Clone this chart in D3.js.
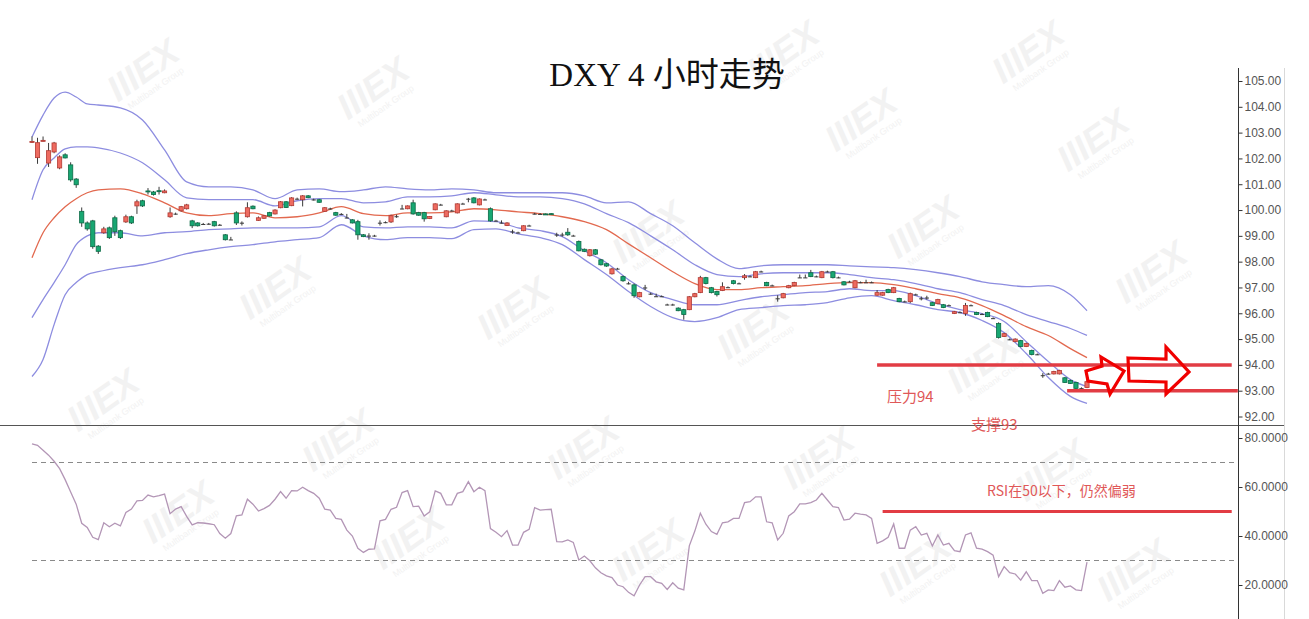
<!DOCTYPE html>
<html><head><meta charset="utf-8">
<script src="https://cdn.jsdelivr.net/npm/d3@7"></script>
<style>body{margin:0;background:#fff;} svg{display:block;}</style>
</head><body><svg id="c" width="1309" height="619"></svg>
<script>
// ---------- DATA ----------
const title = "DXY 4 小时走势";
// candles: [open, high, low, close] (4-hour bars)
const candles = [
[102.64,102.85,102.60,102.66],[102.03,102.80,101.79,102.61],[102.68,102.85,102.66,102.70],[101.82,102.60,101.67,102.30],
[102.25,102.64,102.20,102.60],[101.63,102.12,101.58,102.06],[102.14,102.20,102.00,102.02],[101.75,101.85,101.10,101.17],
[101.20,101.24,100.86,100.98],[99.95,100.10,99.35,99.50],[99.50,99.56,99.20,99.27],[99.58,99.62,98.50,98.58],
[98.60,98.64,98.30,98.40],[99.12,99.35,99.08,99.27],[99.31,99.36,98.88,98.93],[99.70,99.78,99.00,99.16],
[99.20,99.24,98.88,98.93],[99.54,99.82,99.50,99.74],[99.74,99.78,99.46,99.50],[100.16,100.40,99.85,100.32],
[100.36,100.40,100.12,100.16],[100.74,100.85,100.60,100.72],[100.70,100.74,100.56,100.60],[100.75,100.90,100.60,100.73],
[100.67,100.80,100.65,100.74],[99.74,100.10,99.70,99.89],[99.86,99.90,99.82,99.85],[99.97,100.16,99.94,100.13],
[100.05,100.24,100.02,100.20],[99.58,99.62,99.30,99.39],[99.50,99.53,99.36,99.39],[99.46,99.50,99.42,99.45],
[99.47,99.50,99.43,99.46],[99.55,99.58,99.36,99.39],[99.43,99.46,99.40,99.42],[99.04,99.07,98.82,98.85],
[98.86,98.96,98.84,98.85],[99.89,99.95,99.42,99.50],[99.51,99.56,99.40,99.50],[99.74,100.30,99.71,100.09],
[100.15,100.18,100.03,100.05],[99.60,99.75,99.58,99.70],[99.68,99.80,99.66,99.78],[99.90,99.93,99.75,99.77],
[99.85,100.03,99.83,100.00],[100.09,100.35,100.07,100.32],[100.32,100.35,100.08,100.10],[100.17,100.50,100.15,100.47],
[100.44,100.48,100.40,100.43],[100.40,100.58,100.14,100.55],[100.55,100.58,100.46,100.48],[100.41,100.44,100.37,100.40],
[100.40,100.43,100.28,100.30],[99.95,100.11,99.93,100.09],[100.06,100.09,100.02,100.05],[99.90,99.93,99.78,99.80],
[99.85,99.88,99.81,99.84],[99.71,99.85,99.68,99.70],[99.62,99.65,99.48,99.50],[99.55,99.62,98.85,99.04],
[99.04,99.07,98.95,98.97],[99.01,99.10,98.85,99.00],[99.01,99.04,98.97,99.00],[99.51,99.60,99.40,99.50],
[99.53,99.56,99.49,99.52],[99.54,99.82,99.50,99.78],[99.76,99.82,99.70,99.75],[100.06,100.20,100.03,100.05],
[100.05,100.18,100.03,100.16],[100.28,100.40,99.82,99.85],[99.90,99.93,99.78,99.80],[99.90,99.93,99.55,99.66],
[99.67,99.77,99.65,99.75],[100.01,100.26,99.99,100.24],[100.21,100.24,100.18,100.20],[99.74,99.99,99.72,99.97],
[99.98,100.01,99.95,99.97],[99.89,100.26,99.87,100.24],[100.25,100.28,100.22,100.24],[100.44,100.47,100.30,100.43],
[100.47,100.50,100.26,100.28],[100.20,100.45,100.18,100.43],[100.41,100.44,100.38,100.40],[100.05,100.10,99.55,99.58],
[99.59,99.62,99.56,99.58],[99.51,99.60,99.48,99.50],[99.40,99.53,99.38,99.50],[99.17,99.24,99.08,99.16],
[99.13,99.16,99.10,99.12],[99.20,99.41,99.18,99.39],[99.40,99.43,99.37,99.39],[99.86,99.89,99.83,99.85],
[99.85,99.88,99.82,99.84],[99.85,99.87,99.81,99.83],[99.86,99.88,99.82,99.84],[99.05,99.12,98.96,99.04],
[99.05,99.12,98.97,99.04],[99.14,99.30,99.00,99.04],[99.01,99.04,98.98,99.00],[98.78,98.82,98.40,98.42],
[98.48,98.51,98.37,98.40],[98.23,98.49,98.20,98.46],[98.46,98.49,98.26,98.29],[98.07,98.10,97.85,97.88],
[97.92,97.95,97.80,97.83],[97.53,97.76,97.50,97.72],[97.73,97.76,97.70,97.72],[97.42,97.46,97.22,97.26],
[97.16,97.22,97.12,97.15],[97.10,97.15,96.60,96.68],[96.64,96.83,96.62,96.80],[97.00,97.10,96.90,96.99],
[96.76,96.80,96.72,96.75],[96.66,96.76,96.64,96.65],[96.66,96.69,96.63,96.65],[96.34,96.37,96.31,96.33],
[96.34,96.37,96.30,96.33],[96.20,96.23,96.08,96.10],[96.14,96.17,95.75,95.95],[96.14,96.67,96.12,96.64],
[96.64,96.79,96.62,96.76],[96.80,97.45,96.78,97.38],[97.38,97.41,97.12,97.15],[96.99,97.02,96.77,96.80],
[96.84,96.87,96.65,96.72],[96.88,97.20,96.86,97.03],[97.01,97.04,96.98,97.00],[97.26,97.29,97.12,97.15],
[97.16,97.19,97.13,97.15],[97.38,97.52,97.30,97.45],[97.43,97.46,97.40,97.42],[97.38,97.64,97.36,97.61],
[97.62,97.65,97.59,97.61],[97.19,97.22,97.05,97.07],[97.08,97.11,97.05,97.07],[96.58,96.70,96.45,96.57],
[96.60,96.79,96.58,96.76],[96.99,97.10,96.97,97.07],[97.07,97.22,97.05,97.19],[97.39,97.50,97.37,97.38],
[97.39,97.50,97.37,97.38],[97.57,97.68,97.40,97.42],[97.43,97.46,97.40,97.42],[97.38,97.64,97.36,97.61],
[97.62,97.65,97.59,97.61],[97.61,97.64,97.35,97.38],[97.39,97.42,97.36,97.38],[97.22,97.25,97.08,97.10],
[97.23,97.26,97.20,97.22],[96.99,97.29,96.97,97.26],[97.20,97.23,97.17,97.19],[97.20,97.30,97.18,97.19],
[97.20,97.23,97.17,97.19],[96.70,96.90,96.68,96.80],[96.70,96.83,96.68,96.80],[96.92,96.95,96.78,96.80],
[96.80,97.02,96.78,96.99],[96.57,96.60,96.43,96.45],[96.46,96.49,96.43,96.45],[96.45,96.80,96.40,96.76],
[96.73,96.76,96.70,96.72],[96.58,96.65,96.50,96.57],[96.61,96.68,96.53,96.60],[96.41,96.44,96.28,96.30],
[96.37,96.56,96.35,96.53],[96.33,96.36,96.20,96.22],[96.31,96.34,96.28,96.30],[95.99,96.09,95.97,96.06],
[96.04,96.07,96.01,96.03],[95.99,96.40,95.90,96.30],[96.31,96.34,96.28,96.30],[96.03,96.06,95.93,95.95],
[95.97,96.00,95.94,95.96],[96.03,96.06,95.85,95.87],[95.81,95.84,95.78,95.80],[95.60,95.65,95.02,95.06],
[95.10,95.24,95.08,95.21],[94.99,95.02,94.96,94.98],[94.90,95.03,94.88,95.00],[94.94,94.97,94.68,94.71],
[94.71,94.86,94.69,94.83],[94.56,94.59,94.37,94.40],[94.41,94.44,94.38,94.40],[93.60,93.68,93.50,93.59],
[93.66,93.69,93.63,93.65],[93.65,93.77,93.63,93.74],[93.65,93.81,93.63,93.78],[93.50,93.53,93.30,93.32],
[93.40,93.43,93.26,93.28],[93.32,93.35,93.06,93.09],[93.10,93.13,93.07,93.09],[93.12,93.50,93.10,93.35]
];
// Bollinger-type bands, sampled at these bar indices
const bandIdx = [0,2,4,6,8,10,12,16,20,24,28,32,36,40,44,48,52,56,60,64,68,72,76,80,84,88,92,96,100,104,108,112,116,120,124,128,132,136,140,144,148,152,156,160,164,168,172,176,180,184,188,191];
const upperOuter = [102.83,103.68,104.34,104.57,104.38,104.11,104.07,103.96,103.49,102.33,101.09,100.90,100.90,100.78,100.44,100.78,100.82,100.71,100.78,100.90,100.82,100.78,100.82,100.78,100.67,100.67,100.67,100.67,100.55,100.28,100.32,99.86,99.39,98.73,98.11,97.73,97.84,97.88,97.88,97.88,97.84,97.80,97.77,97.69,97.57,97.42,97.22,97.11,97.03,97.07,96.72,96.10];
const upperInner = [100.40,101.56,102.02,102.37,102.45,102.45,102.41,102.21,101.83,101.17,100.47,100.40,100.40,100.40,100.16,100.36,100.44,100.44,100.28,100.32,100.51,100.51,100.55,100.67,100.59,100.51,100.51,100.44,100.24,99.86,99.51,99.00,98.46,97.88,97.50,97.42,97.53,97.57,97.57,97.57,97.50,97.38,97.30,97.15,96.95,96.80,96.53,96.30,95.95,95.68,95.41,95.14];
const midBand = [98.15,99.12,99.70,100.13,100.44,100.67,100.78,100.82,100.63,100.28,99.89,99.78,99.86,99.89,99.70,99.74,99.89,100.13,99.86,99.78,99.89,99.89,99.93,100.05,100.01,99.93,99.86,99.74,99.55,99.24,98.69,98.15,97.61,97.15,96.92,96.92,96.99,97.03,97.07,97.15,97.19,97.19,97.11,96.95,96.76,96.60,96.30,95.91,95.48,95.14,94.63,94.28];
const lowerInner = [95.83,96.53,97.19,97.88,98.66,99.00,99.12,99.12,99.00,99.12,99.16,99.24,99.27,99.31,99.31,99.31,99.35,99.78,99.35,99.31,99.35,99.35,99.31,99.58,99.55,99.31,99.20,98.97,98.42,97.96,97.30,96.80,96.53,96.33,96.33,96.49,96.64,96.72,96.80,96.84,96.95,96.88,96.88,96.68,96.37,96.14,95.99,95.68,94.90,94.13,93.43,93.16];
const lowerOuter = [93.55,94.21,95.56,96.72,97.19,97.50,97.61,97.77,97.88,98.08,98.31,98.46,98.58,98.66,98.77,98.85,98.93,99.43,99.00,98.85,98.93,98.93,98.89,99.24,99.27,99.08,98.93,98.66,98.08,97.50,96.84,96.26,95.83,95.68,95.83,96.14,96.22,96.30,96.33,96.41,96.60,96.68,96.49,96.33,96.14,96.03,95.72,95.25,94.44,93.51,92.78,92.51];
// RSI, one value per bar
const rsi = [77.6,77.0,75.0,73.0,70.5,67.5,63.0,58.0,53.0,45.2,
43.5,39.5,38.5,45.4,43.8,45.2,44.1,49.6,51.0,54.3,
54.5,56.7,56.0,56.5,57.1,49.1,51.0,52.0,48.0,44.5,
45.4,45.3,45.0,44.6,41.0,39.1,41.0,48.2,48.6,55.0,
53.0,50.2,51.2,52.5,55.0,58.1,55.4,58.5,58.4,59.9,
58.5,57.4,55.4,51.0,50.6,47.2,46.8,42.4,40.0,35.0,
33.3,34.6,34.7,46.2,46.8,50.9,51.7,57.7,58.5,52.0,
52.2,48.2,49.9,58.4,57.4,52.7,52.7,57.4,58.1,62.2,
58.1,59.9,58.5,43.0,41.5,39.7,42.2,36.3,36.3,41.5,
42.7,51.6,50.6,50.8,50.9,37.7,37.6,38.4,37.4,30.2,
31.8,29.9,27.0,25.0,23.7,23.0,20.0,19.3,17.0,15.6,
20.0,23.4,23.4,21.3,20.7,18.2,20.9,18.7,18.0,36.0,
42.0,49.3,44.8,41.8,40.7,45.4,45.8,47.2,47.2,53.6,
54.0,56.0,56.0,45.8,45.4,38.4,41.1,48.2,49.9,53.1,
53.1,53.6,54.7,57.4,54.7,52.0,51.6,46.5,46.9,49.3,
48.9,48.6,47.2,37.0,38.0,39.5,44.9,35.0,35.0,42.4,
43.8,40.4,41.1,35.9,40.4,36.3,37.0,34.0,33.6,40.4,
41.3,35.0,34.6,33.6,32.2,23.4,27.5,25.0,24.5,22.0,
25.4,21.8,21.8,16.6,18.0,17.7,21.8,19.1,19.6,18.0,
17.7,29.3];
const priceTicks = [92,93,94,95,96,97,98,99,100,101,102,103,104,105];
const rsiTicks = [20,40,60,80];
const rsiGuides = [70,30];
// annotation levels: [value, fromBar, toBar]
const resistance = [94, 153, 217.2];
const support = [93, 187.4, 218.3];
const rsiLevel = [50, 154, 217.2];
const noteResist = "压力94";
const noteSupport = "支撑93";
const noteRsi = "RSI在50以下，仍然偏弱";

// ---------- CHART ----------
const svg = d3.select("#c");
svg.append("rect").attr("width",1309).attr("height",619).attr("fill","#fff");

const x = d3.scaleLinear().domain([0, candles.length-1]).range([32,1087]);
const y = d3.scaleLinear().domain([92,105]).range([416.5,81]);
const yr = d3.scaleLinear().domain([20,80]).range([585,438]);

// watermark layer (faint)
const wmPos = [[150,80],[380,98],[790,62],[1035,62],[282,298],[520,318],[868,130],[1100,150],[655,242],[930,237],[1158,282],
  [760,338],[990,372],[185,522],[345,450],[415,548],[590,458],[655,560],[825,468],[1058,480],[922,575],[1140,580],[110,410]];
const wm = svg.append("g").attr("class","watermark");
const wg = wm.selectAll("g").data(wmPos).join("g")
  .attr("transform", d => `translate(${d[0]},${d[1]}) rotate(-35)`);
wg.append("text").text("IIIEX").attr("text-anchor","middle")
  .attr("font-family","Liberation Sans, Arial, sans-serif").attr("font-weight","bold").attr("font-size",36)
  .attr("font-style","italic").attr("fill","#f2f2f2");
wg.append("text").text("Multibank Group").attr("text-anchor","middle").attr("y",13)
  .attr("font-family","Liberation Sans, Arial, sans-serif").attr("font-size",9).attr("fill","#f2f2f2");

// frame lines
svg.append("line").attr("x1",0).attr("x2",1284).attr("y1",425.5).attr("y2",425.5).attr("stroke","#555").attr("stroke-width",1);
svg.append("line").attr("x1",1238.5).attr("x2",1238.5).attr("y1",68).attr("y2",619).attr("stroke","#333").attr("stroke-width",1);
svg.append("line").attr("x1",1284.5).attr("x2",1284.5).attr("y1",68).attr("y2",619).attr("stroke","#d9d9d9").attr("stroke-width",1);

// axes
function styleAxis(g){
  g.select(".domain").remove();
  g.selectAll(".tick line").attr("stroke","#333");
  g.selectAll(".tick text").attr("fill","#555").attr("font-size",12)
    .attr("font-family","Liberation Sans, Arial, sans-serif");
}
svg.append("g").attr("transform","translate(1238.5,0)")
  .call(d3.axisRight(y).tickValues(priceTicks).tickSize(4).tickPadding(2).tickFormat(d3.format(".2f")))
  .call(styleAxis);
svg.append("g").attr("transform","translate(1238.5,0)")
  .call(d3.axisRight(yr).tickValues(rsiTicks).tickSize(4).tickPadding(2).tickFormat(d3.format(".4f")))
  .call(styleAxis);

// bands
const bandLine = arr => d3.line().x((d,i)=>x(bandIdx[i])).y(d=>y(d)).curve(d3.curveMonotoneX)(arr);
[[upperOuter,"#8d8de0"],[upperInner,"#8d8de0"],[lowerInner,"#8d8de0"],[lowerOuter,"#8d8de0"],[midBand,"#e2694f"]]
  .forEach(([arr,col]) => {
    svg.append("path").attr("d", bandLine(arr)).attr("fill","none").attr("stroke",col).attr("stroke-width",1.3);
  });

// candles
const cg = svg.append("g").attr("class","candles");
const bw = 4.2;
const cs = cg.selectAll("g").data(candles).join("g");
cs.append("line")
  .attr("x1",(d,i)=>x(i)).attr("x2",(d,i)=>x(i))
  .attr("y1",d=>y(d[1])).attr("y2",d=>y(d[2]))
  .attr("stroke","#3a3a3a").attr("stroke-width",1);
cs.append("rect")
  .attr("x",(d,i)=>x(i)-bw/2).attr("width",bw)
  .attr("y",d=>y(Math.max(d[0],d[3])))
  .attr("height",d=>Math.max(1, Math.abs(y(d[0])-y(d[3]))))
  .attr("fill",d=> Math.abs(d[3]-d[0])<0.015 ? "#3a3a3a" : (d[3]>d[0] ? "#ee6b60" : "#18a772"))
  .attr("stroke",d=> Math.abs(d[3]-d[0])<0.015 ? "none" : (d[3]>d[0] ? "#b23a33" : "#0c6a46"))
  .attr("stroke-width",0.8);

// resistance / support
svg.append("line").attr("x1",x(resistance[1])).attr("x2",x(resistance[2]))
  .attr("y1",y(resistance[0])).attr("y2",y(resistance[0])).attr("stroke","#e23c44").attr("stroke-width",3.5);
svg.append("line").attr("x1",x(support[1])).attr("x2",x(support[2]))
  .attr("y1",y(support[0])).attr("y2",y(support[0])).attr("stroke","#e23c44").attr("stroke-width",3.5);

// arrows (annotation shapes)
const arrow1 = [[1086,371],[1102,366],[1101,357],[1124,371],[1110,394],[1107,384],[1088,381]];
const arrow2 = [[1128,358],[1166,359],[1166,347],[1189,372],[1166,394],[1166,382],[1129,381]];
[arrow1,arrow2].forEach(p=>{
  svg.append("path").attr("d", d3.line()(p)+"Z").attr("fill","none")
    .attr("stroke","#f00000").attr("stroke-width",3.2).attr("stroke-linejoin","miter");
});

// notes
const noteFont = "Noto Sans CJK SC, sans-serif";
svg.append("text").text(noteResist).attr("x",887).attr("y",402).attr("font-size",15)
  .attr("font-family",noteFont).attr("fill","#e05858");
svg.append("text").text(noteSupport).attr("x",971).attr("y",430).attr("font-size",15)
  .attr("font-family",noteFont).attr("fill","#e05858");

// RSI panel
rsiGuides.forEach(v=>{
  svg.append("line").attr("x1",32).attr("x2",1238).attr("y1",yr(v)).attr("y2",yr(v))
    .attr("stroke","#8a8a8a").attr("stroke-width",1).attr("stroke-dasharray","5,4");
});
svg.append("path").attr("d", d3.line().x((d,i)=>x(i)).y(d=>yr(d))(rsi))
  .attr("fill","none").attr("stroke","#b396b6").attr("stroke-width",1.3);
svg.append("line").attr("x1",x(rsiLevel[1])).attr("x2",x(rsiLevel[2]))
  .attr("y1",yr(rsiLevel[0])).attr("y2",yr(rsiLevel[0])).attr("stroke","#e23c44").attr("stroke-width",3);
svg.append("text").text(noteRsi).attr("x",987).attr("y",496).attr("font-size",14)
  .attr("font-family",noteFont).attr("fill","#e05858");

// title
svg.append("text").text(title).attr("x",667).attr("y",86).attr("text-anchor","middle")
  .attr("font-size",33).attr("font-family","Liberation Serif, Noto Sans CJK SC, serif").attr("fill","#111");
</script>
</body></html>
